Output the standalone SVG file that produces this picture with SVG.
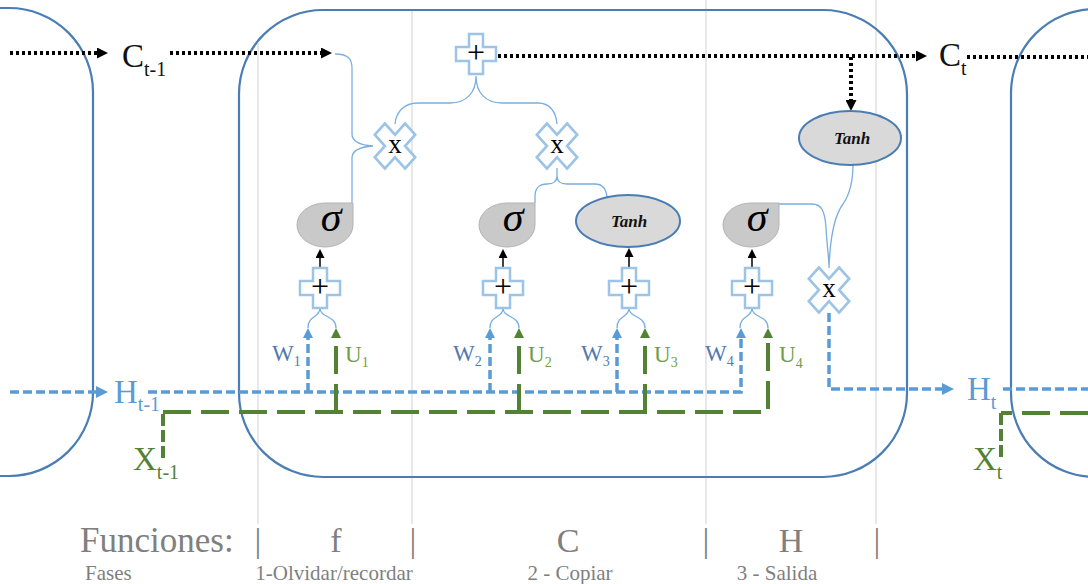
<svg xmlns="http://www.w3.org/2000/svg" width="1088" height="584" viewBox="0 0 1088 584">
<style>
.cell{fill:none;stroke:#4a7db3;stroke-width:2.2}
.sep{stroke:#d9d9d9;stroke-width:1.2}
.dot{fill:none;stroke:#000;stroke-width:4;stroke-dasharray:3 3}
.hb{fill:none;stroke:#5b9bd5;stroke-width:3.5;stroke-dasharray:9 4}
.gx{fill:none;stroke:#548235;stroke-width:4;stroke-dasharray:28 10}
.gs{fill:none;stroke:#548235;stroke-width:4;stroke-dasharray:12 4}
.br{fill:none;stroke:#7aaee0;stroke-width:1.3}
.blk{fill:none;stroke:#000;stroke-width:1.5}
.op{fill:#fff;stroke:#9dc3e6;stroke-width:2.5}
.sig{fill:#c9c9c9;stroke:#b3b3b3;stroke-width:1}
.th{fill:#d9d9d9;stroke:#4a7db3;stroke-width:2}
text{font-family:"Liberation Serif","DejaVu Serif",serif}
.sym{font-size:32px;fill:#000;text-anchor:middle}
.xs{font-size:27px;fill:#000;text-anchor:middle}
.sg{font-size:42px;font-style:italic;fill:#000;text-anchor:middle}
.tn{font-size:17px;font-style:italic;font-weight:bold;fill:#111;text-anchor:middle}
.big{font-size:33px}
.w{font-size:23px;fill:#5079b0}
.u{font-size:23px;fill:#6e9e46}
.sub{font-size:14px}
.gt{fill:#7f7f7f}
.sm{font-size:21px;fill:#7f7f7f}
</style>
<defs>
<path id="crossP" d="M-7,-20H7V-7H20V7H7V20H-7V7H-20V-7H-7Z"/>
<path id="crossX" transform="rotate(45)" d="M-7,-21H7V-7H21V7H7V21H-7V7H-21V-7H-7Z"/>
<marker id="aK" viewBox="0 0 10 10" refX="0" refY="5" markerWidth="11" markerHeight="11" markerUnits="userSpaceOnUse" orient="auto"><path d="M0,0L10,5L0,10Z" fill="#000"/></marker>
<marker id="aKs" viewBox="0 0 10 10" refX="0" refY="5" markerWidth="9" markerHeight="9" markerUnits="userSpaceOnUse" orient="auto"><path d="M0,0L10,5L0,10Z" fill="#000"/></marker>
<marker id="aB" viewBox="0 0 10 10" refX="0" refY="5" markerWidth="12" markerHeight="12" markerUnits="userSpaceOnUse" orient="auto"><path d="M0,0L10,5L0,10Z" fill="#5b9bd5"/></marker>
<marker id="aBs" viewBox="0 0 10 10" refX="0" refY="5" markerWidth="10" markerHeight="10" markerUnits="userSpaceOnUse" orient="auto"><path d="M0,0L10,5L0,10Z" fill="#5b9bd5"/></marker>
<marker id="aGs" viewBox="0 0 10 10" refX="0" refY="5" markerWidth="10" markerHeight="10" markerUnits="userSpaceOnUse" orient="auto"><path d="M0,0L10,5L0,10Z" fill="#548235"/></marker>
</defs>

<g id="separators">
<line class="sep" x1="258" y1="43" x2="258" y2="524"/>
<line class="sep" x1="412" y1="10" x2="412" y2="524"/>
<line class="sep" x1="706" y1="0" x2="706" y2="524"/>
<line class="sep" x1="876" y1="0" x2="876" y2="524"/>
</g>

<g id="cell-prev"><rect class="cell" x="-200" y="8" width="293" height="468" rx="84"/></g>
<g id="cell-main"><rect class="cell" x="239" y="10" width="668" height="467" rx="84"/></g>
<g id="cell-next"><rect class="cell" x="1011" y="9" width="300" height="468" rx="84"/></g>

<g id="connectors">
<path class="dot" d="M10,53H97" marker-end="url(#aK)"/>
<path class="dot" d="M170,53H321" marker-end="url(#aK)"/>
<path class="dot" d="M498,56H916" marker-end="url(#aK)"/>
<path class="dot" d="M967,57H1088"/>
<path class="dot" d="M851,57V100" marker-end="url(#aK)"/>
<path class="hb" d="M10,392H96" marker-end="url(#aB)"/>
<path class="hb" d="M148,392H741V338" marker-end="url(#aBs)"/>
<path class="hb" d="M308,392V338" marker-end="url(#aBs)"/>
<path class="hb" d="M490,392V338" marker-end="url(#aBs)"/>
<path class="hb" d="M617,392V338" marker-end="url(#aBs)"/>
<path class="hb" d="M829,313V389H942" marker-end="url(#aB)"/>
<path class="hb" d="M1003,389H1088"/>
<path class="gs" d="M163,458V412"/>
<path class="gx" d="M163,412H768V338" marker-end="url(#aGs)"/>
<path class="gx" d="M336,412V338" marker-end="url(#aGs)"/>
<path class="gx" d="M519,412V338" marker-end="url(#aGs)"/>
<path class="gx" d="M645,412V338" marker-end="url(#aGs)"/>
<path class="gx" d="M1088,413H1001"/>
<path class="gs" d="M1001,413V458"/>
<path class="br" d="M320,308C320,318 308,315 308,328M320,308C320,318 336,315 336,328"/>
<path class="br" d="M503,308C503,318 490,315 490,328M503,308C503,318 519,315 519,328"/>
<path class="br" d="M629,308C629,318 617,315 617,328M629,308C629,318 645,315 645,328"/>
<path class="br" d="M752,308C752,318 740,315 740,328M752,308C752,318 768,315 768,328"/>
<path class="blk" d="M320,268V258" marker-end="url(#aKs)"/>
<path class="blk" d="M503,268V258" marker-end="url(#aKs)"/>
<path class="blk" d="M629,268V257" marker-end="url(#aKs)"/>
<path class="blk" d="M752,268V258" marker-end="url(#aKs)"/>
<path class="br" d="M335,54C347,54 352,58 352,68V134C352,141 358,145 373,146M373,146C358,147 352,151 352,158V203"/>
<path class="br" d="M476,76C476,93 466,103 450,103H418C404,103 396,112 395,124M476,76C476,93 486,103 502,103H538C550,103 556,112 557,124"/>
<path class="br" d="M557,168V176C557,182 553,184 547,184C540,184 535,188 535,196V203M557,176C557,182 561,184 567,184H595C601,184 606,188 607,197"/>
<path class="br" d="M779,204H812C822,204 825,212 826,228C827,248 829,256 829,268M853,164C853,182 850,194 843,204C834,216 830,240 829,268"/>
</g>

<g id="add-c"><use href="#crossP" class="op" transform="translate(476,54)"/><text class="sym" x="476" y="63">+</text></g>
<g id="mul-f"><use href="#crossX" class="op" transform="translate(395,146) scale(1.02,1.14)"/><text class="xs" x="395" y="153">x</text></g>
<g id="mul-c"><use href="#crossX" class="op" transform="translate(557,146) scale(1.02,1.14)"/><text class="xs" x="557" y="153">x</text></g>
<g id="mul-h"><use href="#crossX" class="op" transform="translate(829,290) scale(1.02,1.14)"/><text class="xs" x="829" y="297">x</text></g>

<g id="sigma-f"><path class="sig" d="M353,203V225A28,22 0 0 1 297,225A28,22 0 0 1 325,203Z"/><text class="sg" x="331" y="231">σ</text></g>
<g id="sigma-c"><path class="sig" d="M535,203V225A28,22 0 0 1 479,225A28,22 0 0 1 507,203Z"/><text class="sg" x="513" y="231">σ</text></g>
<g id="tanh-c"><ellipse class="th" cx="628" cy="221" rx="52" ry="26"/><text class="tn" x="629" y="227">Tanh</text></g>
<g id="sigma-h"><path class="sig" d="M779,203V225A28,22 0 0 1 723,225A28,22 0 0 1 751,203Z"/><text class="sg" x="757" y="231">σ</text></g>
<g id="tanh-h"><ellipse class="th" cx="850" cy="138" rx="51" ry="27"/><text class="tn" x="852" y="144">Tanh</text></g>

<g id="add-f"><use href="#crossP" class="op" transform="translate(320,288)"/><text class="sym" x="320" y="297">+</text></g>
<g id="add-i"><use href="#crossP" class="op" transform="translate(503,288)"/><text class="sym" x="503" y="297">+</text></g>
<g id="add-t"><use href="#crossP" class="op" transform="translate(629,288)"/><text class="sym" x="629" y="297">+</text></g>
<g id="add-o"><use href="#crossP" class="op" transform="translate(752,288)"/><text class="sym" x="752" y="297">+</text></g>

<g id="weights">
<text class="w" x="272" y="361">W<tspan class="sub" dy="5">1</tspan></text>
<text class="u" x="345" y="362">U<tspan class="sub" dy="5">1</tspan></text>
<text class="w" x="453" y="361">W<tspan class="sub" dy="5">2</tspan></text>
<text class="u" x="528" y="362">U<tspan class="sub" dy="5">2</tspan></text>
<text class="w" x="581" y="361">W<tspan class="sub" dy="5">3</tspan></text>
<text class="u" x="654" y="362">U<tspan class="sub" dy="5">3</tspan></text>
<text class="w" x="705" y="361">W<tspan class="sub" dy="5">4</tspan></text>
<text class="u" x="779" y="362">U<tspan class="sub" dy="6">4</tspan></text>
</g>

<g id="labels">
<text class="big" x="122" y="67" fill="#111">C<tspan font-size="20" dy="9">t-1</tspan></text>
<text class="big" x="939" y="66" fill="#111">C<tspan font-size="20" dy="9">t</tspan></text>
<text class="big" x="114" y="403" fill="#5b9bd5" font-size="34">H<tspan font-size="20" dy="8">t-1</tspan></text>
<text class="big" x="967" y="400" fill="#5b9bd5" font-size="34">H<tspan font-size="20" dy="9">t</tspan></text>
<text class="big" x="133" y="470" fill="#548235">X<tspan font-size="20" dy="9">t-1</tspan></text>
<text class="big" x="973" y="470" fill="#548235">X<tspan font-size="20" dy="9">t</tspan></text>
</g>

<g id="legend">
<text class="gt" x="80" y="552" font-size="35">Funciones:</text>
<text class="gt" x="258" y="552" font-size="34" text-anchor="middle">|</text>
<text class="gt" x="336" y="552" font-size="34" text-anchor="middle">f</text>
<text class="gt" x="413" y="552" font-size="34" text-anchor="middle">|</text>
<text class="gt" x="568" y="552" font-size="34" text-anchor="middle">C</text>
<text class="gt" x="706" y="552" font-size="34" text-anchor="middle">|</text>
<text class="gt" x="791" y="552" font-size="34" text-anchor="middle">H</text>
<text class="gt" x="877" y="552" font-size="34" text-anchor="middle">|</text>
<text class="sm" x="85" y="580">Fases</text>
<text class="sm" x="334" y="580" text-anchor="middle">1-Olvidar/recordar</text>
<text class="sm" x="570" y="580" text-anchor="middle">2 - Copiar</text>
<text class="sm" x="777" y="580" text-anchor="middle">3 - Salida</text>
</g>
</svg>
